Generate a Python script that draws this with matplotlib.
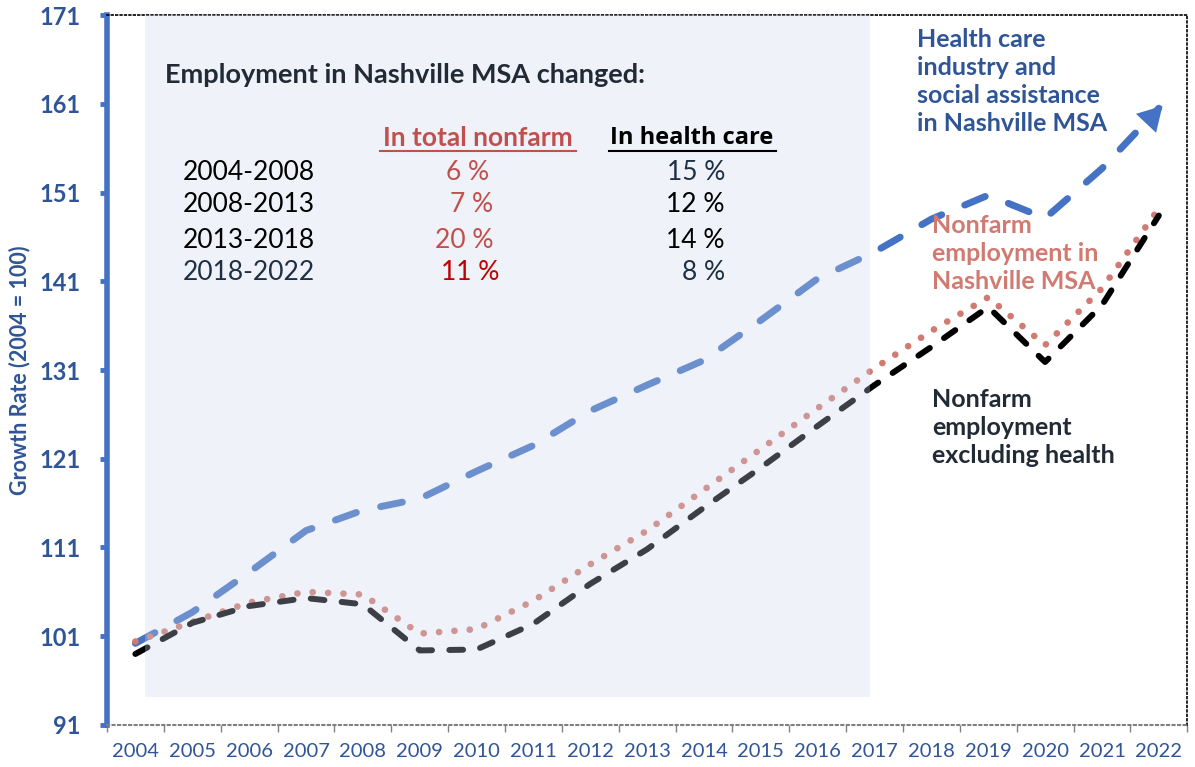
import numpy as np
import matplotlib.pyplot as plt
from matplotlib.patches import Rectangle

# Data (index, 2004 = 100)
years = [str(y) for y in range(2004, 2023)]
health = [100.2, 103.7, 108.2, 112.9, 115.2, 116.5, 119.6, 122.5, 126.4, 129.3,
          132.1, 136.6, 141.3, 144.3, 148.0, 150.7, 148.1, 153.7, 160.5]
nonfarm = [100.4, 102.6, 104.8, 106.0, 105.7, 101.3, 101.8, 105.0, 109.1, 112.9,
           117.5, 122.1, 126.7, 131.2, 135.4, 139.2, 133.8, 140.2, 149.2]
excl_health = [99.0, 102.5, 104.4, 105.3, 104.6, 99.4, 99.5, 102.4, 106.9, 110.8,
               115.5, 120.0, 124.7, 129.3, 133.6, 138.1, 131.9, 138.3, 148.4]

periods = ['2004-2008', '2008-2013', '2013-2018', '2018-2022']
pct_nonfarm = ['6 %', '7 %', '20 %', '11 %']
pct_health = ['15 %', '12 %', '14 %', '8 %']

BLUE = '#4472C4'
DKBLUE = '#2F5597'
PINK = '#D07A72'
NAVY = '#1F3044'

plt.rcParams['font.family'] = ['Lato', 'DejaVu Sans']

fig = plt.figure(figsize=(11.95, 7.67), dpi=100)
ax = fig.add_axes([0.0895, 0.0548, 0.904, 0.9256])
x = np.arange(len(years))
ax.set_xlim(-0.5, len(years) - 0.5)
ax.set_ylim(91, 171)

# lines
ax.plot(x, health, color=BLUE, lw=5, dashes=(3.2, 3.6), dash_capstyle='round', zorder=2)
ax.plot(x, nonfarm, color=PINK, lw=4.8, dashes=(0.01, 2.3), dash_capstyle='round', zorder=3)
ax.plot(x, excl_health, color='black', lw=4.3, dashes=(2.3, 2.9), dash_capstyle='round', zorder=4)

# arrow head at the end of the health care line
p1 = ax.transData.transform((x[-2], health[-2]))
p2 = ax.transData.transform((x[-1], health[-1]))
d = (p2 - p1) / np.hypot(*(p2 - p1))
ang = np.degrees(np.arctan2(d[1], d[0]))
c = ax.transData.inverted().transform(p2 - d * 12)
ax.plot(c[0], c[1], marker=(3, 0, ang - 90), markersize=23, color=BLUE,
        markeredgewidth=0, zorder=5)

# shaded box
ax.add_patch(Rectangle((0.17, 94.1), 12.75, 76.9, facecolor=(202/255, 212/255, 232/255),
                       alpha=0.3, edgecolor='none', zorder=6))

# axes styling
for s in ['top', 'right']:
    ax.spines[s].set_linestyle(':')
    ax.spines[s].set_color('black')
    ax.spines[s].set_linewidth(1.2)
ax.spines['bottom'].set_linestyle(':')
ax.spines['bottom'].set_color('#808080')
ax.spines['bottom'].set_linewidth(1.5)
ax.spines['left'].set_color(BLUE)
ax.spines['left'].set_linewidth(4)

ax.set_yticks(np.arange(91, 172, 10))
ax.tick_params(axis='y', colors=BLUE, width=3.5, length=5, pad=14)
for lab in ax.get_yticklabels():
    lab.set_color(DKBLUE)
    lab.set_fontweight('bold')
    lab.set_fontsize(17)

ax.set_xticks(x)
ax.set_xticklabels(years, fontsize=14.5, color=DKBLUE)
ax.tick_params(axis='x', length=0, pad=13)
ax.set_xticks(np.arange(-0.5, len(years), 1), minor=True)
ax.tick_params(axis='x', which='minor', length=5, color='#808080', width=1)

ax.set_ylabel('Growth Rate (2004 = 100)', fontsize=15.5, fontweight='bold', color=DKBLUE, labelpad=6)

# table text (positions in figure pixels)
def fx(px):
    return px / 1195

def fy(py):
    return 1 - py / 767

fig.text(fx(165), fy(75), 'Employment in Nashville MSA changed:', fontsize=19.5, fontweight='bold',
         color='#222A35', va='center', ha='left')
fig.text(fx(478), fy(138), 'In total nonfarm', fontsize=19, color='#C0504D', va='center',
         ha='center', fontweight='bold')
fig.text(fx(692), fy(138), 'In health care', fontsize=17, color='black', va='center',
         ha='center', fontweight='bold', family=['Open Sans', 'DejaVu Sans'])
# underlines
fig.add_artist(plt.Line2D([fx(380), fx(576)], [fy(151), fy(151)], color='#C0504D', lw=1.5))
fig.add_artist(plt.Line2D([fx(609), fx(776)], [fy(151), fy(151)], color='black', lw=1.5))

row_y = [172, 205, 240, 272]
row_col = ['black', 'black', 'black', NAVY]
nf_col = ['#C0504D', '#C0504D', '#C0504D', '#C00000']
nf_x = [468, 472, 464, 470]
hc_col = [NAVY, 'black', 'black', NAVY]
for i in range(len(periods)):
    fig.text(fx(183), fy(row_y[i]), periods[i], fontsize=19, color=row_col[i], va='center', ha='left')
    fig.text(fx(nf_x[i]), fy(row_y[i]), pct_nonfarm[i], fontsize=19, color=nf_col[i],
             va='center', ha='center')
    fig.text(fx(725), fy(row_y[i]), pct_health[i], fontsize=19, color=hc_col[i],
             va='center', ha='right')

# series labels
fig.text(fx(917), fy(28), 'Health care\nindustry and\nsocial assistance\nin Nashville MSA',
         fontsize=18, fontweight='bold', color=DKBLUE, va='top', ha='left', linespacing=1.27)
fig.text(fx(932), fy(214), 'Nonfarm\nemployment in\nNashville MSA',
         fontsize=18, fontweight='bold', color=PINK, va='top', ha='left', linespacing=1.27)
fig.text(fx(932), fy(388), 'Nonfarm\nemployment\nexcluding health',
         fontsize=18, fontweight='bold', color='#222A35', va='top', ha='left', linespacing=1.27)

fig.savefig('out.png', dpi=100)
